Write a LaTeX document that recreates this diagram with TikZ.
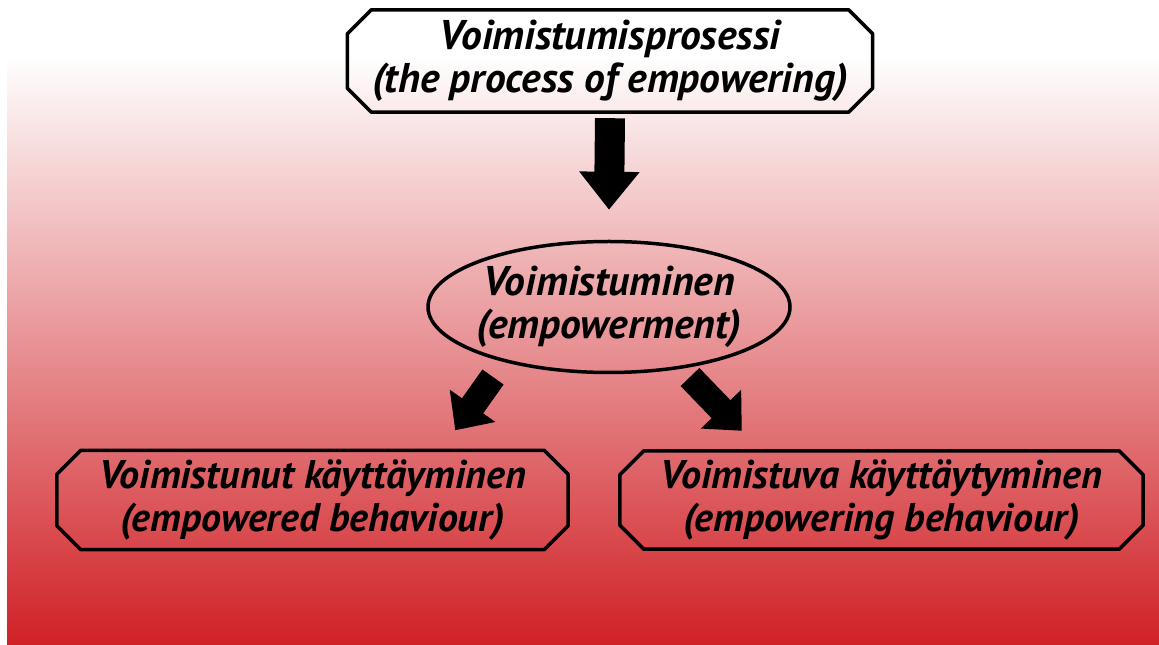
\documentclass[tikz,border=0pt]{standalone}
\usepackage{fontspec}
\setmainfont{PT Sans}
\usetikzlibrary{arrows.meta,calc,shapes.geometric}
\definecolor{bgred}{RGB}{208,33,38}
\newcommand{\octbox}[2]{%
  \draw[boxline] ($(#1.north west)+(#2,0)$) -- ($(#1.north east)+(-#2,0)$)
    -- ($(#1.north east)+(0,-#2)$) -- ($(#1.south east)+(0,#2)$)
    -- ($(#1.south east)+(-#2,0)$) -- ($(#1.south west)+(#2,0)$)
    -- ($(#1.south west)+(0,#2)$) -- ($(#1.north west)+(0,-#2)$) -- cycle;}
\tikzset{
  boxline/.style={draw=black, line width=3.5pt, line join=round},
  txt/.style={align=center, inner sep=0pt, font=\fontsize{41.5}{43}\selectfont\bfseries\itshape},
  txtsmall/.style={txt, font=\fontsize{40}{43}\selectfont\bfseries\itshape},
  bigarrow/.style={draw=black, line width=30pt, -{Triangle[length=38pt,width=58pt]}},
  diagarrow/.style={draw=black, line width=26pt, -{Triangle[length=30pt,width=54pt]}},
}
\begin{document}
\begin{tikzpicture}[x=1pt,y=1pt]
\useasboundingbox (0,0) rectangle (1159,645);
\shade[top color=white, bottom color=bgred] (7,0) rectangle (1159,590);

\node[txt, minimum width=525pt, minimum height=102pt] (top) at (610,584)
  {Voimistumisprosessi\\(the process of empowering)};
\octbox{top}{24}

\node[ellipse, boxline, minimum width=362pt, minimum height=131pt, inner sep=0pt] (mid) at (609,338) {};
\node[txt] (midtxt) at (mid.center) {Voimistuminen\\(empowerment)};

\node[txtsmall, minimum width=511pt, minimum height=99pt] (bl) at (312.5,145)
  {Voimistunut käyttäyminen\\(empowered behaviour)};
\octbox{bl}{24}

\node[txtsmall, minimum width=523pt, minimum height=98pt] (br) at (881.5,145)
  {Voimistuva käyttäytyminen\\(empowering behaviour)};
\octbox{br}{24}

\draw[bigarrow] ($(top.south)+(0,-6)$) -- ($(mid.north)+(0,30)$);
\draw[diagarrow] ($(mid.center)+(-116,-70)$) -- ($(bl.north east)+(-113,20)$);
\draw[diagarrow] ($(mid.center)+(81,-70)$) -- ($(br.north west)+(122,20)$);
\end{tikzpicture}
\end{document}
